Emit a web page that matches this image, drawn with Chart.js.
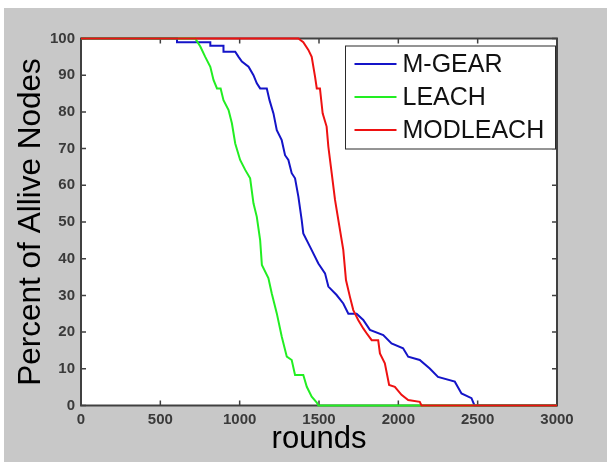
<!DOCTYPE html>
<html><head><meta charset="utf-8">
<script src="https://cdn.jsdelivr.net/npm/chart.js@4.4.1/dist/chart.umd.min.js"></script>
<style>
html,body{margin:0;padding:0;background:#fff;width:607px;height:462px;overflow:hidden}
#wrap{position:absolute;left:4px;top:8px;width:603px;height:454px;background:#c8c8c8}
canvas{display:block}
</style></head><body>
<div id="wrap"><canvas id="c" width="603" height="454"></canvas></div>
<script>
// ---- data ----
const seriesNames = ['M-GEAR', 'LEACH', 'MODLEACH'];
const xTicks = [0, 500, 1000, 1500, 2000, 2500, 3000];
const yTicks = [0, 10, 20, 30, 40, 50, 60, 70, 80, 90, 100];

const mgearRounds = [0, 605, 605, 815, 815, 898, 898, 972, 993, 1014, 1056, 1087, 1108, 1129, 1171, 1188, 1213, 1234, 1265, 1286, 1307, 1328, 1349, 1370, 1391, 1401, 1443, 1496, 1538, 1559, 1611, 1653, 1685, 1737, 1779, 1821, 1905, 1957, 2030, 2062, 2135, 2198, 2250, 2356, 2398, 2461, 2480, 3000];
const mgearAlive  = [100, 100, 99, 99, 98, 98, 96.4, 96.4, 95, 93.7, 92.3, 90, 87.8, 86.4, 86.4, 83.2, 79.6, 75, 72.3, 68.2, 66.9, 63.3, 61.9, 56.9, 50.5, 46.9, 43.3, 38.7, 36, 32.4, 30.1, 27.8, 25, 25, 23.3, 20.6, 19.2, 16.9, 15.6, 13.3, 12.4, 10.1, 7.8, 6.5, 3.3, 2, 0, 0];

const leachRounds = [0, 720, 752, 783, 815, 835, 857, 880, 898, 930, 951, 972, 1003, 1035, 1066, 1087, 1108, 1129, 1140, 1181, 1202, 1234, 1265, 1297, 1328, 1349, 1401, 1423, 1454, 1486, 1496, 3000];
const leachAlive  = [100, 100, 97.8, 95, 92.3, 88.7, 86.4, 86.4, 83.2, 80.5, 76.9, 71.4, 66.9, 64.2, 61.9, 55.1, 51.4, 45.1, 38.3, 34.7, 30.6, 25.1, 18.8, 13.3, 12.4, 8.3, 8.3, 5.1, 2.4, 0.8, 0, 0];

const modleachRounds = [0, 1370, 1401, 1433, 1454, 1475, 1486, 1506, 1523, 1548, 1559, 1580, 1601, 1622, 1653, 1670, 1695, 1716, 1747, 1779, 1800, 1832, 1873, 1884, 1915, 1942, 1978, 2020, 2062, 2135, 2146, 3000];
const modleachAlive  = [100, 100, 99, 96.9, 95, 89.6, 86.4, 86.4, 79.6, 76, 70.5, 63.3, 56, 50.5, 42.4, 34.2, 29.6, 26, 23.3, 21, 19.7, 17.8, 17.8, 14.2, 11.5, 5.6, 5.1, 2.9, 1.5, 1, 0, 0];

const colors = ['#1414c8', '#22ee22', '#ee1111'];

function pts(xs, ys){ return xs.map((x,i)=>({x:x, y:ys[i]})); }

const tickFont = {family: '"Liberation Sans", Arial, sans-serif', size: 15, weight: 'bold'};
const titleFamily = '"Liberation Sans", Arial, sans-serif';

const frame = {
  id: 'frame',
  beforeDraw(chart){
    const {ctx, chartArea:a} = chart;
    ctx.save();
    ctx.fillStyle = '#ffffff';
    ctx.fillRect(a.left, a.top, a.right-a.left, a.bottom-a.top);
    ctx.restore();
  },
  beforeDatasetsDraw(chart){
    const {ctx, chartArea:a, scales} = chart;
    ctx.save();
    ctx.strokeStyle = '#404040';
    ctx.lineWidth = 2;
    ctx.strokeRect(a.left, a.top, a.right-a.left, a.bottom-a.top);
    ctx.lineWidth = 1.5;
    ctx.beginPath();
    const tl = 5;
    scales.x.ticks.forEach(t=>{
      const px = scales.x.getPixelForValue(t.value);
      ctx.moveTo(px, a.bottom); ctx.lineTo(px, a.bottom-tl);
      ctx.moveTo(px, a.top); ctx.lineTo(px, a.top+tl);
    });
    scales.y.ticks.forEach(t=>{
      const py = scales.y.getPixelForValue(t.value);
      ctx.moveTo(a.left, py); ctx.lineTo(a.left+tl, py);
      ctx.moveTo(a.right, py); ctx.lineTo(a.right-tl, py);
    });
    ctx.stroke();
    ctx.restore();
  },
  afterDraw(chart){
    const {ctx, chartArea:a} = chart;
    const w = 210, h = 103;
    const L = a.right - 211.5, T = a.top + 7.5;
    ctx.save();
    ctx.fillStyle = '#ffffff';
    ctx.fillRect(L, T, w, h);
    ctx.strokeStyle = '#2a2a2a';
    ctx.lineWidth = 1;
    ctx.strokeRect(L, T, w, h);
    ctx.font = '25px ' + titleFamily;
    ctx.textBaseline = 'middle';
    ctx.fillStyle = '#111';
    const rows = [18, 51, 84];
    seriesNames.forEach((name,i)=>{
      const cy = T + rows[i];
      ctx.strokeStyle = colors[i];
      ctx.lineWidth = 2;
      ctx.beginPath();
      ctx.moveTo(L+9, cy); ctx.lineTo(L+51, cy);
      ctx.stroke();
      ctx.fillText(name, L+57, cy+1);
    });
    ctx.restore();
  }
};

const data = {
  datasets: [
    {label: seriesNames[0], data: pts(mgearRounds, mgearAlive), borderColor: colors[0], order: 3},
    {label: seriesNames[1], data: pts(leachRounds, leachAlive), borderColor: colors[1], order: 2},
    {label: seriesNames[2], data: pts(modleachRounds, modleachAlive), borderColor: colors[2], order: 1}
  ].map(d=>Object.assign(d, {borderWidth: 2, pointRadius: 0, tension: 0, fill: false, clip: false}))
};

new Chart(document.getElementById('c'), {
  type: 'line',
  data: data,
  plugins: [frame],
  options: {
    responsive: false,
    animation: false,
    devicePixelRatio: 1,
    layout: {padding: {left: 0, top: 30.5, right: 50, bottom: 0}},
    plugins: {legend: {display: false}, tooltip: {enabled: false}},
    scales: {
      x: {
        type: 'linear', min: 0, max: 3000,
        afterBuildTicks: s => { s.ticks = xTicks.map(v=>({value:v})); },
        afterFit: s => { s.height = 56.5; },
        grid: {display: false, drawTicks: false},
        border: {display: false},
        ticks: {padding: 5, color: '#3a3a3a', font: tickFont, callback: v => String(v)},
        title: {display: true, text: 'rounds', color: '#000', padding: {top: 0, bottom: 4}, font: {family: titleFamily, size: 31}}
      },
      y: {
        type: 'linear', min: 0, max: 100,
        afterBuildTicks: s => { s.ticks = yTicks.map(v=>({value:v})); },
        afterFit: s => { s.width = 77; },
        grid: {display: false, drawTicks: false},
        border: {display: false},
        ticks: {padding: 6, color: '#3a3a3a', font: tickFont, callback: v => String(v)},
        title: {display: true, text: 'Percent of Allive Nodes', color: '#000', padding: {top: 8, bottom: 0}, font: {family: titleFamily, size: 31.5}}
      }
    }
  }
});
</script>
</body></html>
